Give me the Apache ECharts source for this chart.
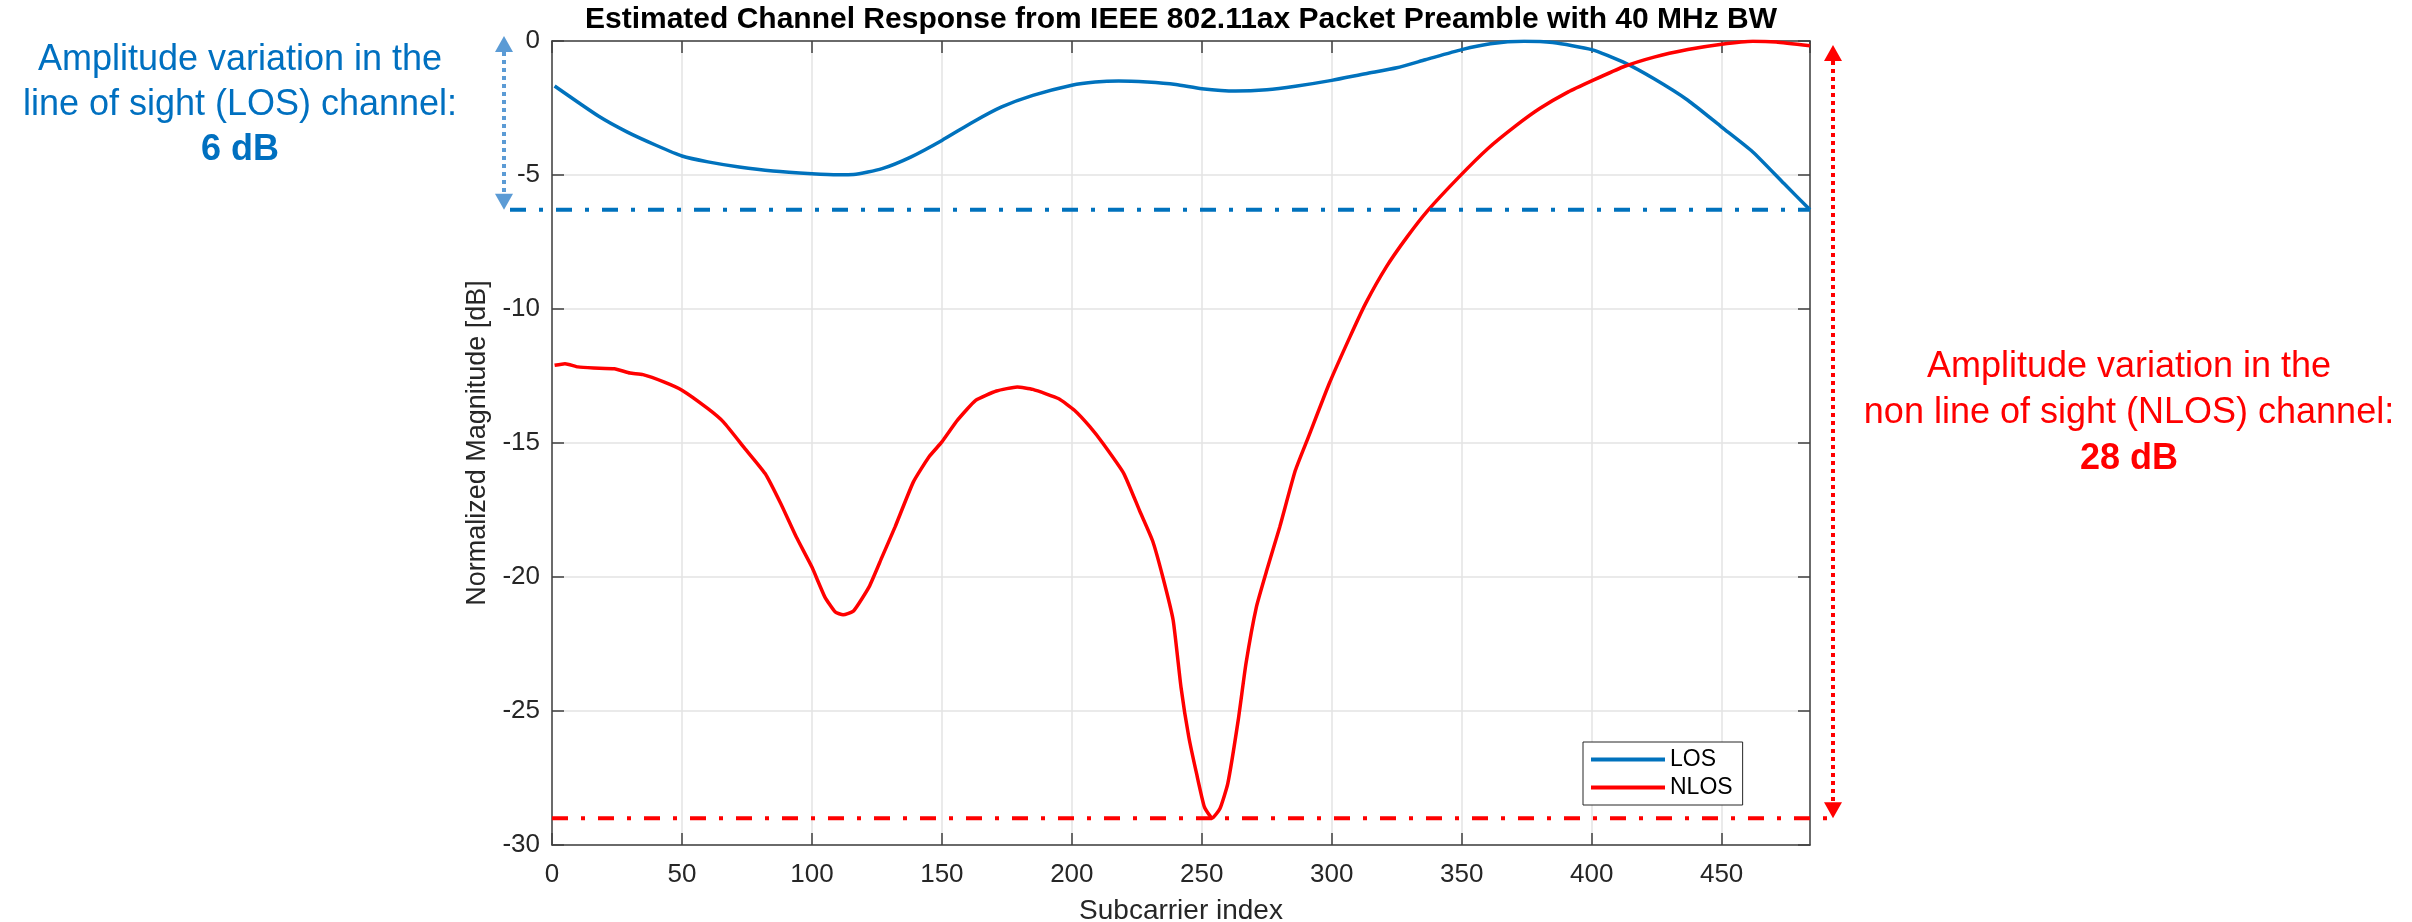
<!DOCTYPE html>
<html>
<head>
<meta charset="utf-8">
<script src="https://cdn.jsdelivr.net/npm/echarts@6/dist/echarts.min.js"></script>
<style>
  html, body { margin: 0; padding: 0; background: #fff; }
  #chart { width: 2412px; height: 922px; }
</style>
</head>
<body>
<div id="chart"></div>
<script>
// subcarrier index / normalized magnitude (dB)
const losIdx = [1, 18, 29, 40, 50, 60, 72, 85, 100, 110, 116, 127, 138, 150, 162, 173, 185, 200, 209, 218, 229, 240, 250, 263, 275, 286, 300, 313, 325, 336, 350, 361, 374, 385, 400, 412, 424, 437, 450, 462, 474, 484]
const losDb = [-1.68, -2.81, -3.40, -3.89, -4.29, -4.51, -4.70, -4.85, -4.95, -4.99, -4.98, -4.76, -4.33, -3.71, -3.02, -2.46, -2.03, -1.65, -1.53, -1.49, -1.53, -1.62, -1.78, -1.87, -1.82, -1.69, -1.47, -1.22, -1.00, -0.70, -0.32, -0.10, -0.01, -0.06, -0.32, -0.78, -1.41, -2.21, -3.21, -4.14, -5.32, -6.30]

const nlosIdx = [1, 5, 10, 16, 24, 30, 35, 43, 50, 60, 66, 74, 82, 88, 94, 100, 105, 109, 112, 116, 122, 127, 132, 139, 145, 150, 156, 163, 171, 179, 185, 195, 201, 207, 212, 220, 226, 231, 235, 239, 242, 245, 248, 251, 254, 257, 260, 264, 267, 271, 275, 280, 286, 291, 299, 307, 313, 321, 329, 337, 349, 360, 371, 380, 391, 400, 412, 424, 437, 450, 462, 471, 484]
const nlosDb = [-12.10, -12.04, -12.16, -12.20, -12.23, -12.39, -12.45, -12.72, -13.03, -13.72, -14.22, -15.18, -16.14, -17.26, -18.51, -19.63, -20.75, -21.31, -21.41, -21.27, -20.37, -19.25, -18.13, -16.46, -15.52, -14.96, -14.15, -13.41, -13.06, -12.91, -13.00, -13.35, -13.78, -14.40, -15.02, -16.14, -17.51, -18.63, -20.00, -21.62, -24.11, -25.97, -27.34, -28.58, -29.00, -28.64, -27.71, -25.35, -23.23, -21.12, -19.75, -18.13, -16.02, -14.78, -12.79, -11.04, -9.80, -8.43, -7.31, -6.32, -5.07, -4.02, -3.15, -2.52, -1.90, -1.49, -0.97, -0.60, -0.32, -0.12, -0.01, -0.04, -0.18]

// axis limits / ticks
const xMin = 0, xMax = 484, xStep = 50
const yMin = -30, yMax = 0, yStep = 5

// annotation levels (dB)
const peakLevel = 0
const losFloor = -6.3
const nlosFloor = -29

const FONT = '"Liberation Sans", Arial, Helvetica, sans-serif'
const LOS_COLOR = '#0072BD'
const NLOS_COLOR = '#FF0000'
const AXIS_COLOR = '#404040'

const zip = (xs, ys) => xs.map((x, i) => [x, ys[i]])

const chart = echarts.init(document.getElementById('chart'))

const boxAxis = {
  axisLine: { show: true, onZero: false, lineStyle: { color: AXIS_COLOR, width: 1.5 } },
  axisTick: { show: true, inside: true, length: 12, lineStyle: { color: AXIS_COLOR, width: 1.5 } },
  axisLabel: { show: false },
  splitLine: { show: false },
}

const option = {
  animation: false,
  backgroundColor: '#fff',
  title: {
    text: 'Estimated Channel Response from IEEE 802.11ax Packet Preamble with 40 MHz BW',
    left: 1181,
    top: 5,
    textAlign: 'center',
    padding: 0,
    textStyle: { fontFamily: FONT, fontSize: 30, fontWeight: 'bold', color: '#000' },
  },
  grid: { left: 552, right: 602, top: 41, bottom: 77, outerBoundsMode: 'none' },
  legend: {
    left: 1583,
    top: 742,
    orient: 'vertical',
    icon: 'rect',
    itemWidth: 74,
    itemHeight: 4,
    itemGap: 5,
    padding: [6, 10, 6, 8],
    backgroundColor: '#fff',
    borderColor: '#262626',
    borderWidth: 1,
    borderRadius: 0,
    textStyle: { fontFamily: FONT, fontSize: 23, color: '#000' },
    data: ['LOS', 'NLOS'],
  },
  xAxis: [
    {
      type: 'value',
      min: xMin,
      max: xMax,
      interval: xStep,
      name: 'Subcarrier index',
      nameLocation: 'middle',
      nameGap: 52,
      nameTextStyle: { fontFamily: FONT, fontSize: 28, color: '#262626' },
      axisLine: { show: true, onZero: false, lineStyle: { color: AXIS_COLOR, width: 1.5 } },
      axisTick: { show: true, inside: true, length: 12, lineStyle: { color: AXIS_COLOR, width: 1.5 } },
      axisLabel: { margin: 17, showMaxLabel: false, fontFamily: FONT, fontSize: 26, color: '#262626' },
      splitLine: { show: true, lineStyle: { color: '#e3e3e3', width: 1.5 } },
    },
    Object.assign({ type: 'value', position: 'top', min: xMin, max: xMax, interval: xStep }, boxAxis),
  ],
  yAxis: [
    {
      type: 'value',
      min: yMin,
      max: yMax,
      interval: yStep,
      name: 'Normalized Magnitude [dB]',
      nameLocation: 'middle',
      nameGap: 60,
      nameTextStyle: { fontFamily: FONT, fontSize: 27, color: '#262626' },
      axisLine: { show: true, onZero: false, lineStyle: { color: AXIS_COLOR, width: 1.5 } },
      axisTick: { show: true, inside: true, length: 12, lineStyle: { color: AXIS_COLOR, width: 1.5 } },
      axisLabel: { margin: 12, fontFamily: FONT, fontSize: 26, color: '#262626' },
      splitLine: { show: true, lineStyle: { color: '#e3e3e3', width: 1.5 } },
    },
    Object.assign({ type: 'value', position: 'right', min: yMin, max: yMax, interval: yStep }, boxAxis),
  ],
  series: [
    {
      name: 'LOS',
      type: 'line',
      showSymbol: false,
      symbol: 'none',
      smooth: 0.2,
      lineStyle: { color: LOS_COLOR, width: 3.5 },
      itemStyle: { color: LOS_COLOR },
      data: zip(losIdx, losDb),
      z: 3,
    },
    {
      name: 'NLOS',
      type: 'line',
      showSymbol: false,
      symbol: 'none',
      smooth: 0.15,
      lineStyle: { color: NLOS_COLOR, width: 3.5 },
      itemStyle: { color: NLOS_COLOR },
      data: zip(nlosIdx, nlosDb),
      z: 3,
    },
  ],
}

chart.setOption(option)

// annotation overlay: dash-dot floor lines, dotted double arrows, text boxes
const px = (x, y) => chart.convertToPixel({ gridIndex: 0 }, [x, y])
const leftX = px(xMin, 0)[0]
const rightX = px(xMax, 0)[0]
const yPeak = px(0, peakLevel)[1]
const yLos = px(0, losFloor)[1]
const yNlos = px(0, nlosFloor)[1]

const losArrowX = leftX - 48
const nlosArrowX = rightX + 23
const dashDot = [16, 13, 4, 13]

function doubleArrow(x, yTop, yBot, color) {
  const h = 16, w = 9
  return [
    {
      type: 'line', z: 10,
      shape: { x1: x, y1: yTop + h, x2: x, y2: yBot - h },
      style: { stroke: color, lineWidth: 4, lineDash: [4, 4] },
    },
    {
      type: 'polygon', z: 10,
      shape: { points: [[x, yTop], [x - w, yTop + h], [x + w, yTop + h]] },
      style: { fill: color },
    },
    {
      type: 'polygon', z: 10,
      shape: { points: [[x, yBot], [x - w, yBot - h], [x + w, yBot - h]] },
      style: { fill: color },
    },
  ]
}

function textLine(text, x, y, color, bold) {
  return {
    type: 'text', z: 10,
    style: {
      text: text, x: x, y: y,
      textAlign: 'center', textVerticalAlign: 'middle',
      fill: color,
      font: (bold ? 'bold ' : '') + '36px ' + FONT,
    },
  }
}

const graphic = [
  {
    type: 'line', z: 9,
    shape: { x1: losArrowX + 6, y1: yLos, x2: rightX, y2: yLos },
    style: { stroke: LOS_COLOR, lineWidth: 4, lineDash: dashDot },
  },
  {
    type: 'line', z: 9,
    shape: { x1: leftX, y1: yNlos, x2: nlosArrowX, y2: yNlos },
    style: { stroke: NLOS_COLOR, lineWidth: 4, lineDash: dashDot },
  },
  ...doubleArrow(losArrowX, yPeak - 5, yLos, '#5B9BD5'),
  ...doubleArrow(nlosArrowX, yPeak + 4, yNlos, NLOS_COLOR),
  textLine('Amplitude variation in the', 240, 60, '#0070C0', false),
  textLine('line of sight (LOS) channel:', 240, 105, '#0070C0', false),
  textLine('6 dB', 240, 150, '#0070C0', true),
  textLine('Amplitude variation in the', 2129, 367, NLOS_COLOR, false),
  textLine('non line of sight (NLOS) channel:', 2129, 413, NLOS_COLOR, false),
  textLine('28 dB', 2129, 459, NLOS_COLOR, true),
]

chart.setOption({ graphic: graphic })
</script>
</body>
</html>
